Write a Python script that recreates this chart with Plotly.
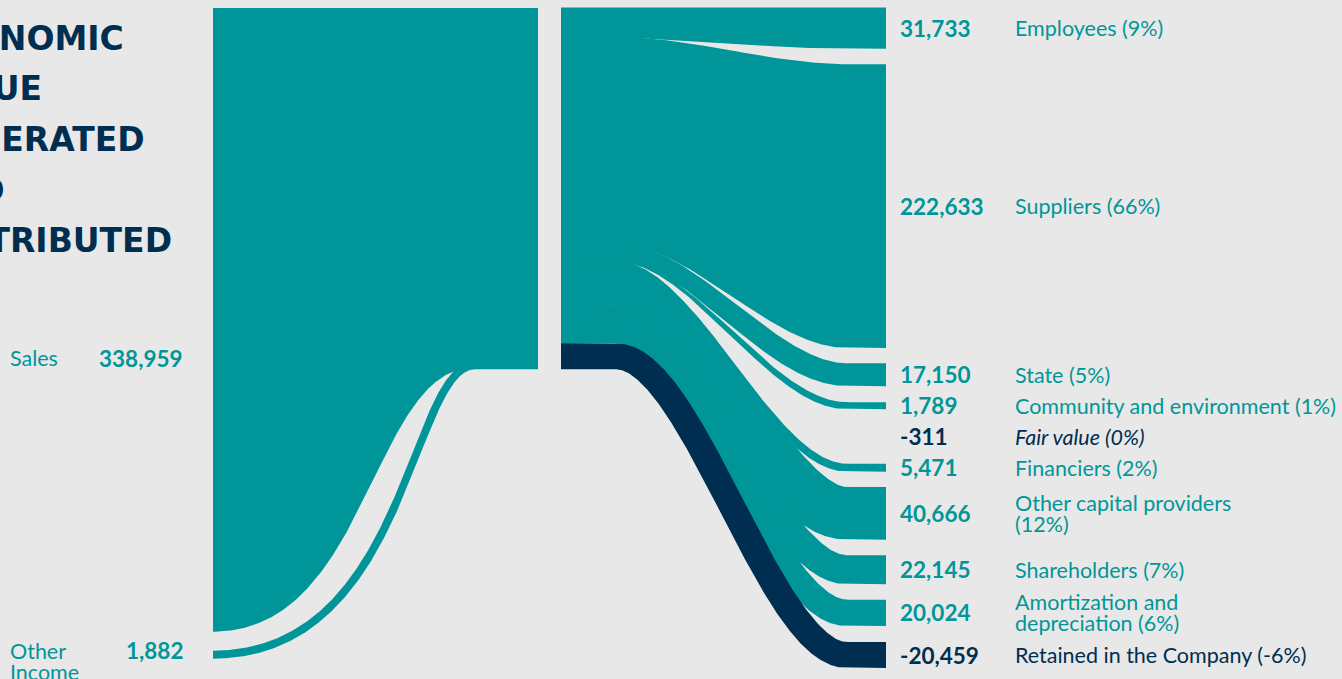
import numpy as np
import plotly.graph_objects as go

# ---------------- data ----------------
title_lines = ["ECONOMIC", "VALUE", "GENERATED", "AND", "DISTRIBUTED"]

in_labels = ["Sales", "Other<br>Income"]
in_values = [338959, 1882]

out_labels = ["Employees (9%)", "Suppliers (66%)", "State (5%)",
              "Community and environment (1%)", "Fair value (0%)", "Financiers (2%)",
              "Other capital providers<br>(12%)", "Shareholders (7%)",
              "Amortization and<br>depreciation (6%)", "Retained in the Company (-6%)"]
out_values = [31733, 222633, 17150, 1789, -311, 5471, 40666, 22145, 20024, -20459]

# ---------------- style ----------------
W, H = 1342, 679
BG = "#e8e8e8"
TEAL = "#009699"
NAVY = "#002e50"
FONT = "Lato, 'Open Sans', sans-serif"
TITLE_FONT = "'DejaVu Sans', 'Open Sans', sans-serif"
LBL_SIZE, VAL_SIZE = 21.5, 22.5

TOP = 8
X_IN, X_NODE0, X_NODE1 = 213, 475, 538
X_R0, X_R1 = 561, 886
K_IN, K_NODE, K_OUT = 1.84, 1.06, 1.27     # px per thousand
GAP_IN, MIN_IN, MIN_OUT = 19, 8, 6
LABEL_SP = 31
R_BOTTOM = 668
SUB = (0.17, 0.88)
RIBBON_MIN = 100
SEAM = 1.0
N = 500


def smooth_curve(x0, x1, y0, y1, sub=SUB, n=N):
    x = np.linspace(x0, x1, n)
    u = (x - x0) / (x1 - x0)
    v = np.clip((u - sub[0]) / (sub[1] - sub[0]), 0, 1)
    s = v * v * (3 - 2 * v)
    return x, y0 + (y1 - y0) * s, s


def bezier_curve(x0, x1, y0, y1, c1, c2, n=N):
    t = np.linspace(0, 1, n)
    b1, b2, b3 = 3 * (1 - t) ** 2 * t, 3 * (1 - t) * t ** 2, t ** 3
    x = (1 - t) ** 3 * x0 + b1 * (x0 + c1 * (x1 - x0)) + b2 * (x0 + c2 * (x1 - x0)) + b3 * x1
    s = b2 + b3
    return x, y0 + (y1 - y0) * s, s


def stroke_poly(x, yc, w):
    dx, dy = np.gradient(x), np.gradient(yc)
    L = np.hypot(dx, dy)
    ox, oy = dy / L * w / 2, -dx / L * w / 2
    return (np.concatenate([x + ox, (x - ox)[::-1]]),
            np.concatenate([yc + oy, (yc - oy)[::-1]]))


fig = go.Figure()


def add_poly(px, py, color):
    fig.add_trace(go.Scatter(x=px, y=py, mode="lines", fill="toself", fillcolor=color,
                             line=dict(width=0, color=color), hoverinfo="skip",
                             showlegend=False))


def add_text(x, y, text, color, size, anchor="left", bold=False, italic=False, shift=0,
             family=FONT):
    t = text
    if bold:
        t = f"<b>{t}</b>"
    if italic:
        t = f"<i>{t}</i>"
    fig.add_annotation(x=x, y=y, xref="x", yref="y", text=t, showarrow=False,
                       xanchor=anchor, yanchor="middle", xshift=shift,
                       font=dict(family=family, size=size, color=color))


def add_lines(x, y, text, color, size, anchor="left", italic=False, lh=21):
    for j, line in enumerate(text.split("<br>")):
        add_text(x, y + j * lh, line, color, size, anchor, italic=italic)


# ---------------- inputs (left) ----------------
inv = np.array(in_values) / 1000
in_th = np.maximum(inv * K_IN, MIN_IN)
in_top = TOP + np.concatenate([[0], np.cumsum(in_th[:-1] + GAP_IN)])
node_th = inv * K_NODE
node_top = TOP + np.concatenate([[0], np.cumsum(node_th[:-1])])
node_bot = TOP + node_th.sum()

for i in range(len(inv)):
    if in_th[i] > RIBBON_MIN:
        xt, yt, _ = bezier_curve(X_IN, X_NODE0, in_top[i], node_top[i], 0.6, 0.6)
        xb, yb, _ = bezier_curve(X_IN, X_NODE0, in_top[i] + in_th[i],
                                 node_top[i] + node_th[i], 0.6, 0.6)
        px = np.concatenate([xt, [X_NODE1, X_NODE1], xb[::-1]])
        py = np.concatenate([yt, [node_top[i], node_top[i] + node_th[i]], yb[::-1]])
        add_poly(px, py, TEAL)
    else:
        xc, yc, s = bezier_curve(X_IN, X_NODE0, in_top[i] + in_th[i] / 2,
                                 node_bot - in_th[i] / 2, 0.75, 0.75)
        px, py = stroke_poly(xc, yc, np.full_like(xc, in_th[i]))
        add_poly(px, py, TEAL)

# node block
add_poly([X_NODE0, X_NODE1, X_NODE1, X_NODE0], [TOP, TOP, node_bot, node_bot], TEAL)

for i, lab in enumerate(in_labels):
    yl = max(in_top[i], node_bot - 11)
    add_lines(8, yl, lab, TEAL, LBL_SIZE)
    add_text(185, yl, f"{in_values[i]:,}", TEAL, VAL_SIZE, anchor="right", bold=True)

# ---------------- outputs (right) ----------------
outv = np.array(out_values) / 1000
pos = outv > 0
tgt_th = np.where(pos, np.maximum(np.abs(outv) * K_OUT, MIN_OUT), np.abs(outv) * K_OUT)
drawn = tgt_th >= 1
tgt_th = np.where(drawn, tgt_th, 0.0)


def stack_targets(g):
    tops, y, prev_c = [], TOP, None
    for j, th in enumerate(tgt_th):
        top = y if j == 0 else y + g
        c = top + th / 2
        if prev_c is not None and c - prev_c < LABEL_SP:
            top += LABEL_SP - (c - prev_c)
            c = top + th / 2
        tops.append(top)
        prev_c = c
        y = top + th
    return np.array(tops), y


lo, hi = 0.0, 60.0
for _ in range(60):
    mid = (lo + hi) / 2
    if stack_targets(mid)[1] > R_BOTTOM:
        hi = mid
    else:
        lo = mid
tgt_top, _ = stack_targets(lo)

teal_bot = node_bot - tgt_th[~pos].sum()
k_src = (teal_bot - TOP) / outv[pos].sum()
src_th = np.where(pos, outv * k_src, tgt_th)
src_top = np.zeros(len(outv))
yp, yn = TOP, teal_bot
for i in range(len(outv)):
    if pos[i]:
        src_top[i] = yp
        yp += src_th[i]
    else:
        src_top[i] = yn
        yn += src_th[i]

order = [i for i in range(len(outv)) if pos[i]] + [i for i in range(len(outv)) if not pos[i]]
for i in order:
    if not drawn[i]:
        continue
    color = TEAL if pos[i] else NAVY
    seam = SEAM if pos[i] else 0.0
    if tgt_th[i] > RIBBON_MIN:
        xt, yt, _ = smooth_curve(X_R0, X_R1, src_top[i] - seam / 2, tgt_top[i] - seam / 2)
        xb, yb, _ = smooth_curve(X_R0, X_R1, src_top[i] + src_th[i] + seam / 2,
                                 tgt_top[i] + tgt_th[i] + seam / 2)
        add_poly(np.concatenate([xt, xb[::-1]]), np.concatenate([yt, yb[::-1]]), color)
    else:
        xc, yc, s = smooth_curve(X_R0, X_R1, src_top[i] + src_th[i] / 2,
                                 tgt_top[i] + tgt_th[i] / 2)
        w = src_th[i] + (tgt_th[i] - src_th[i]) * s + seam
        px, py = stroke_poly(xc, yc, w)
        add_poly(px, py, color)

for i, lab in enumerate(out_labels):
    yc = tgt_top[i] + tgt_th[i] / 2
    color = TEAL if pos[i] else NAVY
    nlines = lab.count("<br>") + 1
    add_text(X_R1 + 12, yc, f"{out_values[i]:,}", color, VAL_SIZE, bold=True)
    add_lines(1013, yc - (nlines - 1) * 10.5, lab, color, LBL_SIZE, italic=not drawn[i])

# ---------------- title ----------------
for j, line in enumerate(title_lines):
    add_text(0, 38 + j * 50.7, line, NAVY, 33, bold=True, shift=-78, family=TITLE_FONT)

fig.update_layout(
    width=W, height=H, margin=dict(l=0, r=0, t=0, b=0),
    paper_bgcolor=BG, plot_bgcolor=BG, showlegend=False,
    xaxis=dict(range=[0, W], visible=False, fixedrange=True),
    yaxis=dict(range=[H, 0], visible=False, fixedrange=True),
)
fig.write_html("out.html", config={"displayModeBar": False})
